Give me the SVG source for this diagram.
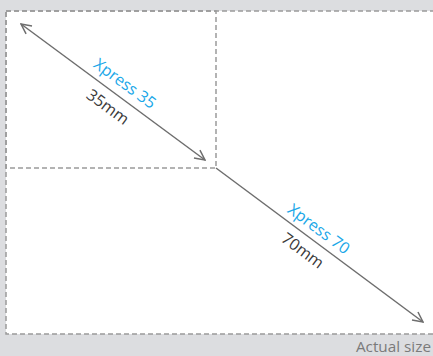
<svg xmlns="http://www.w3.org/2000/svg" width="433" height="356" viewBox="0 0 433 356">
<style>
.frame{fill:none;stroke:#9a9a9a;stroke-width:1.5;stroke-dasharray:5,3}
.arr{stroke:#6e6e6e;stroke-width:1.5;fill:none}
.lbl{font-family:"Open Sans","Noto Sans",sans-serif;font-size:16px;text-anchor:middle}
.blue{fill:#1aa7e8}
.dark{fill:#3a3a3a}
</style>
<defs>
<marker id="ah" viewBox="0 0 12 12" refX="11" refY="6" markerWidth="12" markerHeight="12" markerUnits="userSpaceOnUse" orient="auto-start-reverse">
<path d="M1,1 L11,6 L1,11" fill="none" stroke="#6e6e6e" stroke-width="1.5"/>
</marker>
</defs>
<rect x="0" y="0" width="433" height="356" fill="#dcdde0"/>
<g id="actual">
<rect x="6" y="11" width="440" height="323" fill="#ffffff"/>
<rect class="frame" x="6" y="11" width="440" height="323"/>
</g>
<g id="small">
<rect class="frame" x="6" y="11" width="210" height="157"/>
</g>
<g id="connectors">
<line class="arr" x1="21" y1="24" x2="205" y2="160" marker-start="url(#ah)" marker-end="url(#ah)"/>
<line class="arr" x1="216" y1="168" x2="423" y2="322" marker-end="url(#ah)"/>
</g>
<g id="labels35" transform="translate(117,94.4) rotate(36.3)">
<text class="lbl blue" x="0" y="-8">Xpress 35</text>
<text class="lbl dark" x="0" y="21">35mm</text>
</g>
<g id="labels70" transform="translate(311.4,239) rotate(36.6)">
<text class="lbl blue" x="0" y="-7">Xpress 70</text>
<text class="lbl dark" x="0" y="20">70mm</text>
</g>
<text x="431" y="352" font-family="'Open Sans','Noto Sans',sans-serif" font-size="15.3" fill="#7a7a7a" text-anchor="end">Actual size</text>
</svg>
